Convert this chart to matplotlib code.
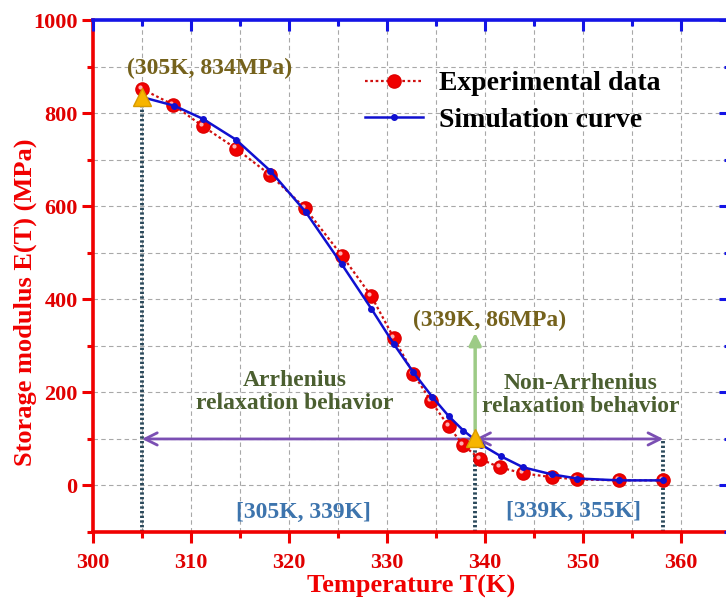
import matplotlib
matplotlib.use("Agg")
import matplotlib.pyplot as plt
import matplotlib.transforms as mtransforms
from matplotlib.ticker import MultipleLocator

# experimental points (K, MPa)
T_exp = [305.0, 308.2, 311.2, 314.6, 318.1, 321.6, 325.4, 328.4, 330.7, 332.7,
         334.5, 336.3, 337.8, 339.5, 341.5, 343.9, 346.8, 349.4, 353.7, 358.2]
E_exp = [852, 818, 772, 724, 667, 597, 494, 407, 317, 240,
         181, 127, 86, 57, 39, 26, 18, 13, 11, 11]

# simulation curve
T_sim = [305.1, 308.3, 311.2, 314.6, 318.1, 321.7, 325.4, 328.4, 330.7, 332.7,
         334.6, 336.3, 337.8, 339.6, 341.6, 343.9, 346.8, 349.4, 353.7, 358.2]
E_sim = [834, 816, 788, 743, 676, 588, 475, 380, 304, 243,
         191, 149, 118, 88, 63, 39, 24, 15, 11, 11]

# key points and ranges
key_T = [305, 339]
key_E = [834, 103]
key_labels = ["(305K, 834MPa)", "(339K, 86MPa)"]
range_T = [305, 339, 358.2]
range_E = 100
range_labels = ["[305K, 339K]", "[339K, 355K]"]
region_labels = ["Arrhenius\nrelaxation behavior", "Non-Arrhenius\nrelaxation behavior"]

plt.rcParams['font.family'] = ['Liberation Serif', 'DejaVu Serif']
plt.rcParams['font.weight'] = 'bold'
plt.rcParams['axes.labelweight'] = 'bold'

RED = '#f00000'
BLUE = '#1414e6'
XLIM = (300, 365)
YLIM = (-100, 1000)
fig = plt.figure(figsize=(7.26, 6.03), dpi=100)
ax = fig.add_axes([0.128, 0.1177, 0.8775, 0.849])
ax.set_xlim(*XLIM)
ax.set_ylim(*YLIM)

ax.grid(True, which='both', linestyle=(0, (4, 3)), color='#a8a8a8', lw=0.8)
ax.set_axisbelow(True)

# vertical dotted guides
guide = dict(color='#2b4a5c', lw=2.8, linestyle=(0, (0.6, 0.6)), zorder=2)
ax.plot([range_T[0], range_T[0]], [-100, key_E[0]], **guide)
ax.plot([range_T[1], range_T[1]], [-100, 80], **guide)
ax.plot([range_T[2], range_T[2]], [-100, range_E], **guide)

# purple range arrows
purple = '#7b4fb3'
ax.annotate('', xy=(range_T[0], range_E), xytext=(range_T[1], range_E),
            arrowprops=dict(arrowstyle='->', color=purple, lw=2, mutation_scale=22,
                            shrinkA=0, shrinkB=0), zorder=3)
ax.annotate('', xy=(range_T[2], range_E), xytext=(range_T[1], range_E),
            arrowprops=dict(arrowstyle='<->', color=purple, lw=2, mutation_scale=22,
                            shrinkA=0, shrinkB=0), zorder=3)
# green arrow
ax.annotate('', xy=(key_T[1], 328), xytext=(key_T[1], 118),
            arrowprops=dict(arrowstyle='-|>', color='#9dcb86', lw=2.5, mutation_scale=18,
                            shrinkA=0, shrinkB=0), zorder=3)

# curves
ax.plot(T_exp, E_exp, linestyle=(0, (1.2, 1.2)), color='#d01010', lw=1.6,
        marker='o', ms=9.5, mfc='#f00000', mec='#e00000', zorder=5,
        label='Experimental data')
hl = ax.transData + mtransforms.ScaledTranslation(-1.5 / 72, 1.5 / 72, fig.dpi_scale_trans)
ax.plot(T_exp, E_exp, linestyle='none', marker='o', ms=3, mfc='#ffb0b0', mec='none',
        transform=hl, zorder=6)
ax.plot(T_sim, E_sim, '-', color='#1010d0', lw=1.8, marker='o', ms=4,
        zorder=7, label='Simulation curve')
ax.plot(key_T, key_E, linestyle='none', marker='^', ms=13, mfc='#f7b500',
        mec='#d89a00', zorder=8)

# texts
olive = '#75621c'
ax.text(311.9, 896, key_labels[0], color=olive, fontsize=17, ha='center', va='center')
ax.text(340.5, 354, key_labels[1], color=olive, fontsize=17, ha='center', va='center')
green = '#4b5f30'
ax.text(320.6, 201, region_labels[0], color=green, fontsize=17, ha='center', va='center',
        linespacing=1.15)
ax.text(349.8, 194, region_labels[1], color=green, fontsize=17, ha='center', va='center',
        linespacing=1.15)
steel = '#3d74ad'
ax.text(321.5, -58, range_labels[0], color=steel, fontsize=17, ha='center', va='center')
ax.text(349.0, -56, range_labels[1], color=steel, fontsize=17, ha='center', va='center')

# axes styling
ax.xaxis.set_major_locator(MultipleLocator(10))
ax.xaxis.set_minor_locator(MultipleLocator(5))
ax.yaxis.set_major_locator(MultipleLocator(200))
ax.yaxis.set_minor_locator(MultipleLocator(100))
ax.tick_params(which='both', direction='out', top=False, right=False,
               colors=RED, labelcolor='#e00000', width=2.2, labelsize=16)
ax.tick_params(which='major', length=8)
ax.tick_params(which='minor', length=4)
ax.tick_params(axis='x', pad=7)
ax.tick_params(axis='y', pad=3)
for s in ['left', 'bottom']:
    ax.spines[s].set_color(RED)
    ax.spines[s].set_linewidth(2.6)
for s in ['top', 'right']:
    ax.spines[s].set_color(BLUE)
    ax.spines[s].set_linewidth(2.6)

# inward blue ticks on the top and right sides
tw = fig.add_axes(ax.get_position(), facecolor='none')
tw.set_xlim(*XLIM)
tw.set_ylim(*YLIM)
tw.xaxis.set_major_locator(MultipleLocator(10))
tw.xaxis.set_minor_locator(MultipleLocator(5))
tw.yaxis.set_major_locator(MultipleLocator(200))
tw.yaxis.set_minor_locator(MultipleLocator(100))
tw.tick_params(which='both', direction='in', colors=BLUE, width=2.2,
               top=True, right=True, bottom=False, left=False,
               labeltop=False, labelright=False, labelbottom=False, labelleft=False)
tw.tick_params(which='major', length=8)
tw.tick_params(which='minor', length=4)
for sp in tw.spines.values():
    sp.set_visible(False)

ax.set_xlabel('Temperature T(K)', color=RED, fontsize=19)
ax.set_ylabel('Storage modulus E(T) (MPa)', color=RED, fontsize=19)
ax.xaxis.set_label_coords(0.499, -0.083)
ax.yaxis.set_label_coords(-0.088, 0.449)

ax.legend(loc='upper left', bbox_to_anchor=(365 / 726, 1 - 71 / 603),
          bbox_transform=fig.transFigure, frameon=False, fontsize=20,
          borderpad=0, borderaxespad=0, handlelength=2.1, handletextpad=0.55,
          labelspacing=0.4)

fig.savefig('out.png', dpi=100)
